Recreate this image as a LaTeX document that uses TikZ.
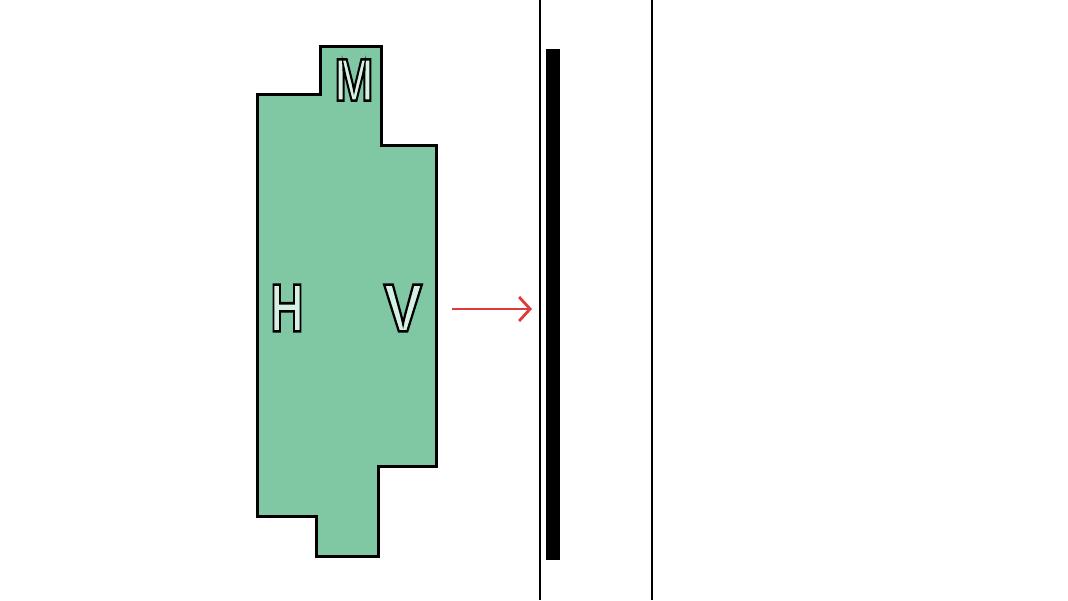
\documentclass[tikz,border=0pt]{standalone}
\usepackage{fontspec}
\setmainfont{Liberation Sans}
\usetikzlibrary{arrows.meta}
\definecolor{mint}{RGB}{128,200,163}
\definecolor{mintlight}{RGB}{215,240,228}
\definecolor{arrowred}{RGB}{220,60,60}
\newcommand{\outlinedletter}[2][0.68]{\scalebox{#1}[1]{\bfseries\color{mintlight}\special{pdf:literal direct 2 Tr 2.6 w 0 G}#2\special{pdf:literal direct 0 Tr}}}
\tikzset{
  letter/.style={inner sep=0pt, font=\fontsize{68}{68}\selectfont},
  thinline/.style={line width=2.4pt, black},
  outlineshape/.style={draw=black, line width=3pt, fill=mint, line join=miter},
}
\begin{document}
\begin{tikzpicture}[x=1pt,y=-1pt]
\useasboundingbox (0,0) rectangle (1068,600);
\fill[white] (0,0) rectangle (1068,600);
% green body
\draw[outlineshape] (257,94) -- (320,94) -- (320,46) -- (381,46) -- (381,145) -- (436,145) -- (436,466) -- (378,466) -- (378,556) -- (316,556) -- (316,516) -- (257,516) -- cycle;
% letters
\node[letter, font=\fontsize{60}{60}\selectfont] (M) at (354,80) {\outlinedletter[0.78]{M}};
\node[letter] (H) at (287,308) {\outlinedletter[0.68]{H}};
\node[letter] (V) at (403,308) {\outlinedletter[0.85]{V}};
% red arrow
\coordinate (a1) at (452,309);
\coordinate (a2) at (532,309);
\draw[arrowred, line width=2.8pt, -{Straight Barb[length=11pt, width=24pt]}] (a1) -- (a2);
% thin lines
\coordinate (l1t) at (540,0);
\coordinate (l1b) at (540,600);
\coordinate (l2t) at (652,0);
\coordinate (l2b) at (652,600);
\draw[thinline] (l1t) -- (l1b);
\draw[thinline] (l2t) -- (l2b);
% thick bar
\fill[black] (546,49) rectangle (560,560);
\end{tikzpicture}
\end{document}
